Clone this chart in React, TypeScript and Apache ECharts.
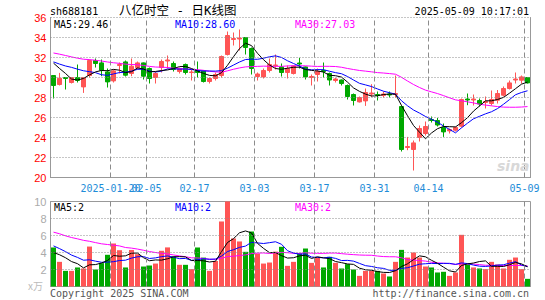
import React, { useEffect, useRef } from 'react';
import * as echarts from 'echarts';

const dates = [
  '2025-01-06','2025-01-07','2025-01-08','2025-01-09','2025-01-10','2025-01-13','2025-01-14','2025-01-15','2025-01-16','2025-01-17',
  '2025-01-20','2025-01-21','2025-01-22','2025-01-23','2025-01-24','2025-01-27',
  '2025-02-05','2025-02-06','2025-02-07','2025-02-10','2025-02-11','2025-02-12','2025-02-13','2025-02-14','2025-02-17','2025-02-18',
  '2025-02-19','2025-02-20','2025-02-21','2025-02-24','2025-02-25','2025-02-26','2025-02-27','2025-02-28',
  '2025-03-03','2025-03-04','2025-03-05','2025-03-06','2025-03-07','2025-03-10','2025-03-11','2025-03-12','2025-03-13','2025-03-14',
  '2025-03-17','2025-03-18','2025-03-19','2025-03-20','2025-03-21','2025-03-24','2025-03-25','2025-03-26','2025-03-27','2025-03-28','2025-03-31',
  '2025-04-01','2025-04-02','2025-04-03','2025-04-07','2025-04-08','2025-04-09','2025-04-10','2025-04-11','2025-04-14','2025-04-15',
  '2025-04-16','2025-04-17','2025-04-18','2025-04-21','2025-04-22','2025-04-23','2025-04-24','2025-04-25','2025-04-28','2025-04-29','2025-04-30',
  '2025-05-06','2025-05-07','2025-05-08','2025-05-09',
];

const tickDates = ['2025-01-20','2025-02-05','2025-02-17','2025-03-03','2025-03-17','2025-03-31','2025-04-14','2025-05-09'];
const tickTexts = ['2025-01-20','02-05','02-17','03-03','03-17','03-31','04-14','05-09'];

const opens = [
  30.2,29.3,30.0,29.5,30.0,29.06,30.2,31.7,31.46,30.56,
  29.66,31.2,31.56,30.4,31.0,31.46,30.9,30.0,31.0,31.65,
  31.4,30.6,31.3,30.5,30.7,30.66,29.6,29.9,30.2,32.3,
  33.8,33.85,34.0,32.9,30.1,30.06,30.7,31.2,31.06,30.5,
  30.4,31.45,31.06,30.0,30.3,30.7,30.4,29.7,29.75,29.2,
  28.3,27.56,27.66,28.35,28.3,28.2,28.35,28.3,27.1,23.0,
  22.8,24.0,24.4,25.8,25.7,25.0,24.66,24.73,25.13,27.85,
  27.75,27.7,27.5,27.4,27.73,28.23,28.9,29.75,29.73,30.0,
];
const closes = [
  29.2,29.93,29.9,30.0,29.7,30.0,31.7,31.4,30.73,29.56,
  30.66,31.3,30.23,31.13,31.46,30.13,29.9,30.4,31.6,31.75,
  30.8,30.9,30.5,30.55,30.5,29.6,29.9,30.3,32.1,34.2,
  33.9,33.95,33.0,30.9,30.35,30.7,31.3,31.25,30.5,30.9,
  31.16,31.35,30.06,30.1,30.6,30.6,29.75,29.85,29.4,28.1,
  27.7,28.0,28.5,28.45,28.2,28.35,28.25,28.4,22.8,23.1,
  23.46,24.9,25.1,25.7,25.25,24.56,24.8,25.0,27.8,27.75,
  27.85,27.35,27.6,27.8,28.4,28.9,29.46,29.85,30.06,29.46,
];
const lows = [
  27.9,29.2,28.8,29.4,29.5,28.46,30.0,31.0,30.13,29.0,
  29.5,30.4,30.1,30.13,30.8,29.8,29.4,29.4,30.5,30.9,
  30.6,30.4,30.3,29.7,30.0,29.5,29.4,29.7,30.0,32.2,
  33.2,32.7,32.3,30.3,29.7,29.9,30.5,30.8,30.1,29.9,
  30.3,30.9,29.8,29.2,29.6,30.0,29.2,29.5,29.2,27.8,
  27.2,27.5,27.16,28.06,27.7,28.0,28.0,28.0,22.6,22.73,
  20.7,23.6,24.2,25.5,25.1,24.06,24.4,24.6,25.0,27.23,
  27.2,27.1,26.9,27.2,27.4,28.1,28.8,29.4,29.4,29.4,
];
const highs = [
  30.25,30.46,30.05,30.05,31.3,30.05,31.8,31.9,31.8,30.9,
  30.8,31.5,31.7,31.9,31.6,31.5,31.0,30.56,31.8,32.2,
  31.6,31.0,31.4,30.8,31.6,30.7,30.0,30.5,32.2,34.6,
  34.5,34.8,34.05,33.0,30.5,30.9,31.9,32.3,31.4,31.2,
  31.2,31.96,31.1,30.3,30.9,31.5,30.5,29.95,29.8,29.3,
  28.4,28.1,28.9,29.33,28.6,28.6,28.6,30.2,27.2,24.06,
  23.7,25.2,25.6,26.1,25.95,25.4,24.9,25.1,27.9,28.4,
  28.3,27.9,28.1,28.7,28.75,29.1,29.7,30.5,30.2,30.0,
];
const volumes = [
  4.59,2.9,1.84,1.84,2.24,2.12,4.7,2.0,2.75,3.73,
  5.06,4.27,2.24,4.3,3.8,2.35,2.47,2.7,4.2,4.6,
  3.53,2.55,2.55,2.04,4.59,3.4,1.84,3.0,7.65,10.0,
  5.65,5.3,4.08,6.47,3.88,2.7,2.82,4.1,4.67,2.43,
  2.9,3.92,4.47,2.78,3.41,2.24,3.49,2.78,2.12,2.63,
  2.0,1.25,1.84,1.84,1.84,1.53,1.18,2.9,4.31,3.41,
  4.0,3.41,2.35,2.24,1.65,1.73,1.25,1.65,6.08,2.59,
  2.24,2.12,2.04,2.9,2.59,2.12,3.14,3.41,2.04,0.9,
];

// Estimated closes / volumes of the 29 sessions before the visible window (implied by where the MA lines start)
const historyCloses = [
  33.5,33.9,34.2,33.6,33.1,32.8,33.4,33.0,32.5,32.9,
  33.2,32.6,32.2,32.0,32.4,32.7,32.3,32.1,32.6,33.0,
  32.1,31.8,31.4,31.5,31.6,32.6,32.4,32.8,30.2,
];
const historyVolumes = [
  8.5,9.2,7.8,6.9,7.4,8.1,6.6,7.0,6.2,7.5,
  6.8,7.9,6.4,7.2,6.5,7.0,6.1,7.3,6.7,6.9,
  6.1,5.4,5.9,5.0,5.4,4.2,3.6,4.1,3.5,
];

const priceMin = 20;
const priceMax = 36;
const priceStep = 2;
const priceGridValues = [22, 24, 26, 28, 30, 32, 34, 36];
const volMin = 0;
const volMax = 10;
const volStep = 2;
const volGridValues = [2, 4, 6, 8];

const RED = '#ff5555';
const GREEN = '#00a800';
const GRIDC = '#8c8c8c';
const MONO = '"DejaVu Sans Mono", monospace';

function movingAverage(history: number[], values: number[], n: number): number[] {
  const all = history.concat(values);
  const h = history.length;
  return values.map((_, i) => {
    let s = 0;
    for (let k = h + i - n + 1; k <= h + i; k++) s += all[k];
    return +(s / n).toFixed(3);
  });
}

function txt(text: string, x: number, y: number, color: string, font: string, align = 'left') {
  return {
    type: 'text',
    x,
    y,
    z: 100,
    silent: true,
    style: {
      text,
      fill: color,
      font,
      textAlign: align,
      textVerticalAlign: 'middle',
      align,
      verticalAlign: 'middle',
    },
  };
}

export default function App() {
  const ref = useRef<HTMLDivElement>(null);
  useEffect(() => {
    if (!ref.current) return;
    const chart = echarts.init(ref.current, undefined, { renderer: 'svg' });
    const ohlc = dates.map((_, i) => [opens[i], closes[i], lows[i], highs[i]]);
    const ma5 = movingAverage(historyCloses, closes, 5);
    const ma10 = movingAverage(historyCloses, closes, 10);
    const ma30 = movingAverage(historyCloses, closes, 30);
    const vma5 = movingAverage(historyVolumes, volumes, 5);
    const vma10 = movingAverage(historyVolumes, volumes, 10);
    const vma30 = movingAverage(historyVolumes, volumes, 30);
    const tickIndices = tickDates.map((d) => dates.indexOf(d));
    const isFirstTick = (_i: number, v: string) => v === tickDates[0];
    const isOtherTick = (_i: number, v: string) => tickDates.indexOf(v) > 0;
    const labelText = (v: string) => { const k = tickDates.indexOf(v); return k >= 0 ? tickTexts[k] : ''; };
    const labelBase = {
      showMinLabel: true, showMaxLabel: true, hideOverlap: false,
      formatter: labelText,
      color: '#1e8cd8', fontFamily: MONO, fontSize: 10, margin: 6, padding: [0, 6, 0, 0],
    };
    const dottedStyle = { color: GRIDC, type: [1, 2], width: 1 };
    const dashedStyle = { color: GRIDC, type: [5, 3], width: 1 };
    const lineBase = { type: 'line', showSymbol: false, symbol: 'none', silent: true };
    const gridLines = (xAxisIndex: number, yAxisIndex: number, hValues: number[]) => ({
      type: 'line', xAxisIndex, yAxisIndex, data: [], silent: true, z: 1,
      markLine: {
        silent: true, symbol: ['none', 'none'], animation: false,
        label: { show: false }, emphasis: { disabled: true },
        data: [
          ...hValues.map((v) => ({ yAxis: v, lineStyle: dottedStyle })),
          ...tickIndices.map((ix) => ({ xAxis: ix, lineStyle: dashedStyle })),
        ],
      },
    });
    const hiddenIndexAxis = (gridIndex: number) => ({
      type: 'value', gridIndex, min: 0, max: dates.length, show: false,
      splitLine: { show: false }, axisLine: { show: false }, axisLabel: { show: false }, axisTick: { show: false },
    });

    const option: any = {
      animation: false,
      grid: [
        { left: 50.5, right: 14.5, top: 17.5, height: 160 },
        { left: 50.5, right: 14.5, top: 201.5, height: 85, show: true, borderColor: '#999', borderWidth: 1 },
      ],
      xAxis: [
        {
          type: 'category', gridIndex: 0, data: dates, boundaryGap: true,
          axisLine: { lineStyle: { color: '#999' } },
          axisTick: { show: false },
          axisLabel: { ...labelBase, interval: isOtherTick },
          splitLine: { show: false },
        },
        {
          type: 'category', gridIndex: 1, data: dates, boundaryGap: true,
          axisLine: { lineStyle: { color: '#999' } },
          axisTick: { show: false },
          axisLabel: { show: false },
          splitLine: { show: false },
        },
        {
          type: 'category', gridIndex: 0, data: dates, boundaryGap: true, position: 'bottom',
          axisLine: { show: false },
          axisTick: { show: false },
          axisLabel: { ...labelBase, interval: isFirstTick },
          splitLine: { show: false },
        },
        hiddenIndexAxis(0),
        hiddenIndexAxis(1),
      ],
      yAxis: [
        {
          type: 'value', gridIndex: 0, min: priceMin, max: priceMax, interval: priceStep,
          axisLine: { show: true, lineStyle: { color: '#999' } },
          axisTick: { show: false },
          axisLabel: { color: '#ff0000', fontFamily: '"Liberation Sans", Arial', fontSize: 11, margin: 4 },
          splitLine: { show: false },
        },
        {
          type: 'value', gridIndex: 0, position: 'right', min: priceMin, max: priceMax, interval: priceStep,
          axisLine: { show: true, lineStyle: { color: '#999' } },
          axisTick: { show: false },
          axisLabel: { show: false },
          splitLine: { show: false },
        },
        {
          type: 'value', gridIndex: 1, min: volMin, max: volMax, interval: volStep,
          axisLine: { show: true, lineStyle: { color: '#999' } },
          axisTick: { show: false },
          axisLabel: { color: '#aaa', fontFamily: '"Liberation Sans", Arial', fontSize: 11, margin: 4, showMinLabel: false },
          splitLine: { show: false },
        },
      ],
      series: [
        gridLines(3, 0, priceGridValues),
        gridLines(4, 2, volGridValues),
        {
          type: 'candlestick', xAxisIndex: 0, yAxisIndex: 0, data: ohlc, barWidth: 5, silent: true, z: 2,
          itemStyle: { color: RED, color0: GREEN, borderColor: RED, borderColor0: GREEN, borderWidth: 1 },
        },
        { ...lineBase, xAxisIndex: 0, yAxisIndex: 0, data: ma30, z: 3, lineStyle: { color: '#ff00ff', width: 1 } },
        { ...lineBase, xAxisIndex: 0, yAxisIndex: 0, data: ma10, z: 3, lineStyle: { color: '#0000ff', width: 1 } },
        { ...lineBase, xAxisIndex: 0, yAxisIndex: 0, data: ma5, z: 3, lineStyle: { color: '#000000', width: 1 } },
        {
          type: 'bar', xAxisIndex: 1, yAxisIndex: 2, barWidth: 5, silent: true, z: 2,
          data: volumes.map((v, i) => ({ value: v, itemStyle: { color: closes[i] >= opens[i] ? RED : GREEN } })),
        },
        { ...lineBase, xAxisIndex: 1, yAxisIndex: 2, data: vma30, z: 3, lineStyle: { color: '#ff00ff', width: 1 } },
        { ...lineBase, xAxisIndex: 1, yAxisIndex: 2, data: vma10, z: 3, lineStyle: { color: '#0000ff', width: 1 } },
        { ...lineBase, xAxisIndex: 1, yAxisIndex: 2, data: vma5, z: 3, lineStyle: { color: '#000000', width: 1 } },
      ],
      graphic: [
        txt('sh688181', 50, 11, '#000', `10px ${MONO}`),
        txt('八亿时空 - 日K线图', 119, 10, '#000', `12.5px "DejaVu Sans Mono", "Noto Sans CJK SC"`),
        txt('2025-05-09 10:17:01', 529, 11.5, '#000', `10px ${MONO}`, 'right'),
        txt('MA5:29.46', 54, 24.5, '#000', `10px ${MONO}`),
        txt('MA10:28.60', 175, 24.5, '#0000ff', `10px ${MONO}`),
        txt('MA30:27.03', 295, 24.5, '#ff00ff', `10px ${MONO}`),
        txt('MA5:2', 54, 207.5, '#000', `10px ${MONO}`),
        txt('MA10:2', 175, 207.5, '#0000ff', `10px ${MONO}`),
        txt('MA30:2', 295, 207.5, '#ff00ff', `10px ${MONO}`),
        txt('x万', 28, 285, '#bbb', `10px "Noto Sans CJK SC"`),
        txt('Copyright 2025 SINA.COM', 50, 293, '#555', `10px ${MONO}`),
        txt('http://finance.sina.com.cn', 529, 293, '#555', `10px ${MONO}`, 'right'),
        txt('sina', 497, 166, '#d8d8d8', `italic bold 14px "DejaVu Sans"`),
      ],
    };
    chart.setOption(option);
    return () => chart.dispose();
  }, []);
  return <div ref={ref} style={{ position: 'fixed', left: 0, top: 0, width: 545, height: 300, background: '#fff' }} />;
}
